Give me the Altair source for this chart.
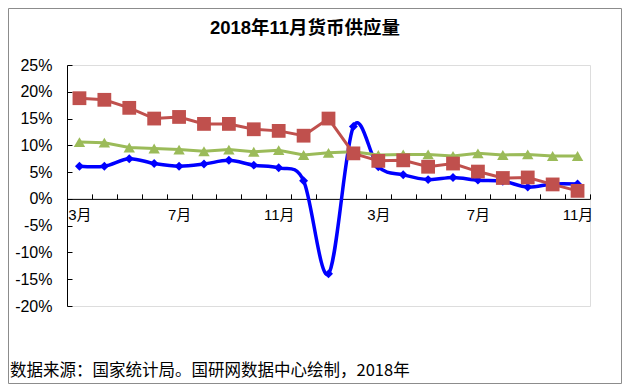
import altair as alt
import pandas as pd

months = ["3月", "4月", "5月", "6月", "7月", "8月", "9月", "10月", "11月", "12月",
          "1月", "2月", "3月", "4月", "5月", "6月", "7月", "8月", "9月", "10月", "11月"]
m0 = [6.1, 6.1, 7.5, 6.6, 6.1, 6.5, 7.2, 6.3, 5.8, 3.4, -14.0, 13.5,
      6.0, 4.5, 3.6, 4.0, 3.5, 3.3, 2.2, 2.8, 2.8]
m1 = [18.8, 18.5, 17.0, 15.0, 15.3, 14.0, 14.0, 13.0, 12.7, 11.8, 15.0, 8.5,
      7.1, 7.2, 6.0, 6.6, 5.1, 3.9, 4.0, 2.7, 1.5]
m2 = [10.6, 10.5, 9.6, 9.4, 9.2, 8.9, 9.2, 8.8, 9.1, 8.2, 8.6, 8.8,
      8.2, 8.3, 8.3, 8.0, 8.5, 8.2, 8.3, 8.0, 8.0]
y_ticks = [-20, -15, -10, -5, 0, 5, 10, 15, 20, 25]
label_positions = [0, 4, 8, 12, 16, 20]
title_text = "2018年11月货币供应量"
footer_text = "数据来源：国家统计局。国研网数据中心绘制，2018年"

n = len(months)
df = pd.DataFrame({
    "idx": list(range(n)) * 3,
    "series": ["M0"] * n + ["M1"] * n + ["M2"] * n,
    "value": m0 + m1 + m2,
})

W, H = 523, 241
LAT = "Liberation Sans, Noto Sans CJK SC, sans-serif"
x_scale = alt.Scale(domain=[-0.5, n - 0.5], nice=False, zero=False)
y_scale = alt.Scale(domain=[-20, 25], nice=False, zero=False)

label_expr = "[" + ",".join("'" + m + "'" for m in months) + "][datum.value]"

ax_x_ticks = alt.Axis(orient="top", offset=-H * 25 / 45, values=[i - 0.5 for i in range(n + 1)],
                      labels=False, ticks=True, tickSize=5, tickColor="black", tickWidth=1,
                      domainColor="black", domainWidth=1, grid=False, title=None)
ax_x_labels = alt.Axis(orient="bottom", offset=-H * 20 / 45, values=label_positions,
                       labelExpr=label_expr, domain=False, ticks=False, labelPadding=9,
                       labelFontSize=15, labelFont=LAT, labelColor="black", grid=False,
                       title=None)
ax_y_ticks = alt.Axis(orient="right", offset=-W, values=y_ticks, labels=False, ticks=True,
                      tickSize=5, tickColor="black", domainColor="black", domainWidth=1,
                      grid=False, title=None)
ax_y_labels = alt.Axis(orient="left", values=y_ticks, labelExpr="datum.value + '%'",
                       domain=False, ticks=False, labelPadding=15, labelFontSize=16,
                       labelFont=LAT, labelColor="black", grid=False, title=None)

base = alt.Chart(df)

def sel(s):
    return base.transform_filter(alt.datum.series == s)

blue, red, green = "#0000FF", "#C0504D", "#9BBB59"

blue_line = sel("M0").mark_line(interpolate="cardinal", color=blue, strokeWidth=3.5).encode(
    x=alt.X("idx:Q", scale=x_scale, axis=ax_x_labels),
    y=alt.Y("value:Q", scale=y_scale, axis=ax_y_labels),
)
blue_pts = sel("M0").mark_point(shape="diamond", filled=True, size=80, color=blue, opacity=1).encode(
    x=alt.X("idx:Q", scale=x_scale, axis=None),
    y=alt.Y("value:Q", scale=y_scale, axis=None),
)
green_line = sel("M2").mark_line(color=green, strokeWidth=3).encode(
    x=alt.X("idx:Q", scale=x_scale, axis=ax_x_ticks),
    y=alt.Y("value:Q", scale=y_scale, axis=ax_y_ticks),
)
green_pts = sel("M2").mark_point(shape="triangle-up", filled=True, size=130, color=green, opacity=1).encode(
    x=alt.X("idx:Q", scale=x_scale, axis=None),
    y=alt.Y("value:Q", scale=y_scale, axis=None),
)
red_line = sel("M1").mark_line(color=red, strokeWidth=3).encode(
    x=alt.X("idx:Q", scale=x_scale, axis=None),
    y=alt.Y("value:Q", scale=y_scale, axis=None),
)
red_pts = sel("M1").mark_point(shape="square", filled=True, size=190, color=red, opacity=1).encode(
    x=alt.X("idx:Q", scale=x_scale, axis=None),
    y=alt.Y("value:Q", scale=y_scale, axis=None),
)

title = alt.Chart(pd.DataFrame({"t": [title_text]})).mark_text(
    align="center", baseline="middle", font=LAT, fontSize=18.5, fontWeight="bold", color="black"
).encode(x=alt.value(238), y=alt.value(-37), text="t:N")

footer = alt.Chart(pd.DataFrame({"t": [footer_text]})).mark_text(
    align="left", baseline="alphabetic", font="Noto Sans CJK SC", fontSize=16.5, color="black"
).encode(x=alt.value(-57), y=alt.value(311), text="t:N")

border = alt.Chart(pd.DataFrame({"a": [0]})).mark_rect(
    fillOpacity=0, stroke="#8c8c8c", strokeWidth=1
).encode(x=alt.value(-58.5), x2=alt.value(554.5), y=alt.value(-56.5), y2=alt.value(318.5))

chart = alt.layer(
    border, blue_line, green_line, blue_pts, green_pts, red_line, red_pts, title, footer
).resolve_axis(x="independent", y="independent").properties(
    width=W, height=H,
    autosize=alt.AutoSizeParams(type="none"),
    padding={"left": 59, "top": 57, "right": 32, "bottom": 78},
).configure_view(stroke=None).configure(background="white")

chart.save("out.html", embed_options={"renderer": "svg", "actions": False})
